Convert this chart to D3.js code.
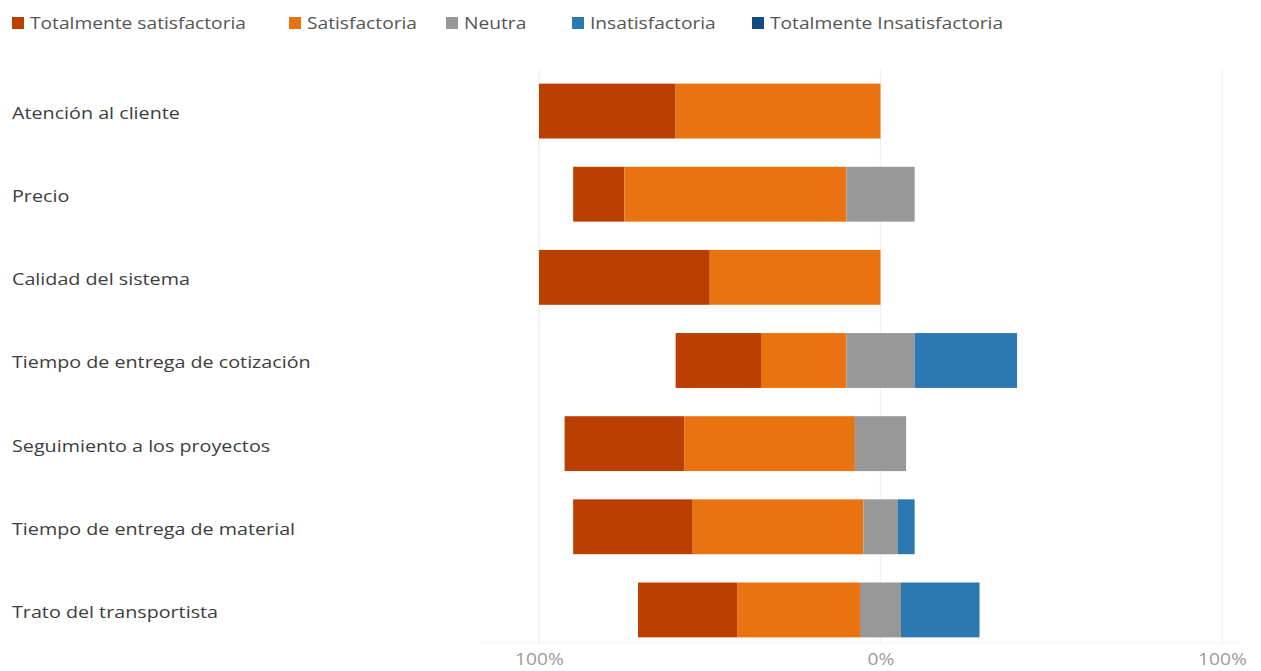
<!DOCTYPE html>
<html>
<head>
<meta charset="utf-8">
<script src="https://cdn.jsdelivr.net/npm/d3@7"></script>
<style>
  html, body { margin: 0; padding: 0; background: #ffffff; }
  svg { display: block; }
</style>
</head>
<body>
<svg id="chart" width="1261" height="671"></svg>
<script>
const categories = [
  "Atención al cliente",
  "Precio",
  "Calidad del sistema",
  "Tiempo de entrega de cotización",
  "Seguimiento a los proyectos",
  "Tiempo de entrega de material",
  "Trato del transportista"
];
const seriesNames = ["Totalmente satisfactoria", "Satisfactoria", "Neutra", "Insatisfactoria", "Totalmente Insatisfactoria"];
const seriesColors = ["#BB3F00", "#E97310", "#989898", "#2B78B2", "#114B7F"];
const totalmenteSatisfactoria = [40, 15, 50, 25, 35, 35, 29];
const satisfactoria = [60, 65, 50, 25, 50, 50, 36];
const neutra = [0, 20, 0, 20, 15, 10, 12];
const insatisfactoria = [0, 0, 0, 30, 0, 5, 23];
const totalmenteInsatisfactoria = [0, 0, 0, 0, 0, 0, 0];
const tickValues = [-100, 0, 100];
const tickLabels = ["100%", "0%", "100%"];

const seriesValues = [totalmenteSatisfactoria, satisfactoria, neutra, insatisfactoria, totalmenteInsatisfactoria];

const svg = d3.select("#chart");
const font = "'Open Sans', 'Noto Sans', sans-serif";

const x = d3.scaleLinear().domain([-100, 100]).range([539, 1222]);
const y = d3.scaleBand().domain(categories).range([69.5, 651.5]).paddingInner(0.34).paddingOuter(0.17);

// gridlines
svg.append("g").selectAll("line").data(tickValues).join("line")
  .attr("x1", d => x(d)).attr("x2", d => x(d))
  .attr("y1", 70).attr("y2", 643)
  .attr("stroke", "#f1f1f1").attr("stroke-width", 1.5);
svg.append("line").attr("x1", 480).attr("x2", 1240).attr("y1", 643).attr("y2", 643)
  .attr("stroke", "#f3f3f3").attr("stroke-width", 1);

// build segments
const segs = [];
categories.forEach((c, i) => {
  let start = -(totalmenteSatisfactoria[i] + satisfactoria[i] + neutra[i] / 2);
  seriesValues.forEach((arr, k) => {
    const v = arr[i];
    if (v > 0) segs.push({ cat: c, k, x0: start, x1: start + v });
    start += v;
  });
});

svg.append("g").selectAll("rect").data(segs).join("rect")
  .attr("x", d => x(d.x0))
  .attr("width", d => x(d.x1) - x(d.x0))
  .attr("y", d => y(d.cat))
  .attr("height", y.bandwidth())
  .attr("fill", d => seriesColors[d.k]);

// category labels
svg.append("g").selectAll("g").data(categories).join("g")
  .attr("transform", d => `translate(12,${y(d) + y.bandwidth() / 2 + 2}) scale(1.16,1)`)
  .append("text")
  .attr("dy", "0.35em")
  .attr("font-family", font)
  .attr("font-size", 17)
  .attr("fill", "#3d3d3d")
  .text(d => d);

// x axis labels
const xAxis = d3.axisBottom(x).tickValues(tickValues).tickSize(0).tickFormat((d, i) => tickLabels[i]);
const ax = svg.append("g").attr("transform", "translate(0,651)").call(xAxis);
ax.select(".domain").remove();
ax.selectAll("text").attr("font-family", font).attr("font-size", 16).attr("fill", "#9a9a9a")
  .attr("transform", "scale(1.2,1)");

// legend
const legendX = [12, 289, 446, 572, 752];
const lg = svg.append("g").selectAll("g").data(seriesNames).join("g")
  .attr("transform", (d, i) => `translate(${legendX[i]},23)`);
lg.append("rect").attr("x", 0).attr("y", -6).attr("width", 12).attr("height", 12)
  .attr("fill", (d, i) => seriesColors[i]);
lg.append("g").attr("transform", "translate(18,0) scale(1.2,1)")
  .append("text").attr("dy", "0.35em")
  .attr("font-family", font).attr("font-size", 16).attr("fill", "#555555")
  .text(d => d);
</script>
</body>
</html>
